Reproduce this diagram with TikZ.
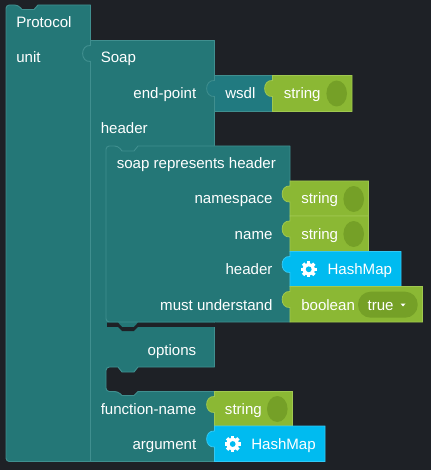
\documentclass[tikz,border=0pt]{standalone}
\usepackage{fontspec}
\setmainfont{Liberation Sans}
\definecolor{bgcolor}{RGB}{30, 33, 38}
\definecolor{tealcolor}{RGB}{36, 119, 119}
\definecolor{tealedge}{RGB}{64, 143, 143}
\definecolor{wsdlcolor}{RGB}{33, 122, 128}
\definecolor{greencolor}{RGB}{139, 184, 52}
\definecolor{greenedge}{RGB}{160, 200, 80}
\definecolor{greendark}{RGB}{117, 160, 39}
\definecolor{bluecolor}{RGB}{0, 187, 240}
\definecolor{blueedge}{RGB}{50, 200, 245}
% tab on the left side of a block: x, top of the block
\newcommand{\tabup}[2]{-- (#1,{#2+21}) .. controls ({#1-10.5},{#2+22}) and ({#1-10.5},{#2+4}) .. (#1,{#2+5})}
% value block: style, left, top, right, bottom
\newcommand{\valueblock}[5]{\draw[#1] (#2,#3) -- (#4,#3) -- (#4,#5) -- (#2,#5) \tabup{#2}{#3} -- cycle;}

\begin{document}
\begin{tikzpicture}[
    x=0.75pt, y=-0.75pt,
    teal block/.style={fill=tealcolor, draw=tealedge, line width=0.7pt, line join=round},
    wsdl block/.style={fill=wsdlcolor, draw=tealedge, line width=0.6pt},
    green block/.style={fill=greencolor, draw=greenedge, line width=0.6pt},
    blue block/.style={fill=bluecolor, draw=blueedge, line width=0.6pt},
    lbl/.style={anchor=base west, inner sep=0pt, text=white, font=\fontsize{11.3}{13}\selectfont},
    rlbl/.style={lbl, anchor=base east},
    field/.style={fill=greendark},
    gear/.pic={
        \fill[white] (0,0) circle (6.2);
        \foreach \a in {0,45,90,135} {
            \fill[white, rotate=\a] (-1.7,-8) rectangle (1.7,8);
        }
        \fill[bluecolor] (0,0) circle (2.9);
    },
]
\useasboundingbox (0,0) rectangle (431,470);
\fill[bgcolor] (0,0) rectangle (431,470);

% ======= OUTER BLOCK =======
\draw[teal block] (90.5,461.5) [rounded corners=2.5pt] -- (6,461.5) -- (6,5) -- (18,5) [sharp corners] -- (22,9.5) -- (34,9.5) -- (38,5) -- (90.5,5) -- cycle;

% ======= SOAP BLOCK =======
\draw[teal block] (90.5,40.5) -- (214.5,40.5) -- (214.5,367) -- (138,367) -- (134,372) -- (122,372) -- (118,367)
    [rounded corners=2.5pt] -- (106,367) -- (106,391.5) -- (118,391.5) [sharp corners] -- (122,395.5) -- (134,395.5) -- (138,391.5)
    -- (214.5,391.5) -- (214.5,461.5) -- (90.5,461.5) \tabup{90.5}{40.5} -- cycle;

% ======= INNER BLOCK =======
\draw[teal block] (290,322) [rounded corners=2.5pt] -- (106,322) -- (106,146) -- (118,146) [sharp corners] -- (122,151) -- (134,151) -- (138,146) -- (290,146) -- cycle;
\fill[bgcolor] (107,322.6) -- (118,322.6) -- (122,327) -- (134,327) -- (138,322.6) -- (215.5,322.6) -- (215.5,326.8) -- (138,326.8) -- (134,331) -- (122,331) -- (118,326.8) -- (107,326.8) -- cycle;

% ======= VALUE BLOCKS =======
\valueblock{wsdl block}{214.5}{75.5}{272.5}{111.5}
\valueblock{green block}{272.5}{75.5}{352}{111.5}
\valueblock{green block}{290}{181}{368.5}{216}
\valueblock{green block}{290}{216}{368.5}{251.5}
\valueblock{blue block}{290}{251.5}{401}{286.5}
\valueblock{green block}{290}{286.5}{422.5}{322}
\valueblock{green block}{214.5}{391.5}{292.5}{426}
\valueblock{blue block}{214.5}{426}{325}{461.5}

% ======= FIELDS =======
\foreach \cx/\cy in {336.7/93.5, 353.7/199, 353.7/234, 277.3/409} {
    \fill[field] (\cx,\cy) ellipse (10.3 and 13);
}
\fill[field, rounded corners=9.5pt] (358,291.7) rectangle (417.7,317.7);
\fill[white] (400.5,303.5) -- (405.5,303.5) -- (403,306.5) -- cycle;
\pic at (308.7,269.3) {gear};
\pic at (232.7,444) {gear};

% ======= LABELS =======
\node[lbl] (protocol) at (16,28) {Protocol};
\node[lbl] (unit) at (16,63) {unit};
\node[lbl] (soap) at (100.5,63) {Soap};
\node[rlbl] (endpoint) at (196.5,99) {end-point};
\node[lbl] (wsdl) at (225,99) {wsdl};
\node[lbl] (string-a) at (283.5,99) {string};
\node[lbl] (header-a) at (100.5,134) {header};
\node[lbl] (represents) at (116.5,169) {soap represents header};
\node[rlbl] (namespace) at (272.7,204) {namespace};
\node[lbl] (string-b) at (301,204) {string};
\node[rlbl] (name) at (272.7,239) {name};
\node[lbl] (string-c) at (301,239) {string};
\node[rlbl] (header-b) at (272.7,274.5) {header};
\node[lbl] (hashmap-a) at (327.3,274.5) {HashMap};
\node[rlbl] (understand) at (272.7,310) {must understand};
\node[lbl] (boolean) at (301,310) {boolean};
\node[lbl] (true) at (367.3,310) {true};
\node[rlbl] (options) at (196.5,355) {options};
\node[rlbl] (function) at (196.5,414) {function-name};
\node[lbl] (string-d) at (224.7,414) {string};
\node[rlbl] (argument) at (196.5,449) {argument};
\node[lbl] (hashmap-b) at (251,449) {HashMap};

\end{tikzpicture}
\end{document}
